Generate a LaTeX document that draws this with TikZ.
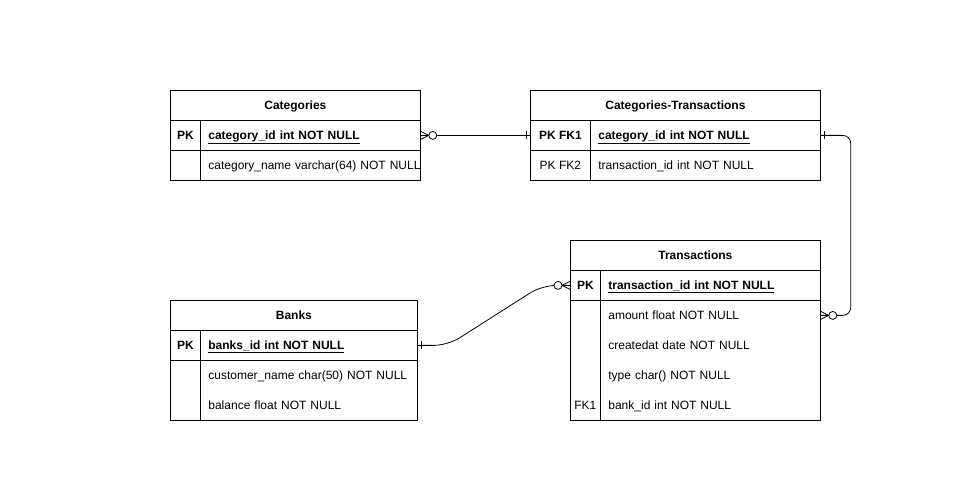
\documentclass[tikz,border=0pt]{standalone}
\usepackage{fontspec}
\setmainfont{Liberation Sans}
\usetikzlibrary{calc}

\begin{document}
\begin{tikzpicture}[
    x=1pt, y=-1pt, line width=0.8pt,
    font=\fontsize{12}{14}\selectfont,
    cell/.style={anchor=north west, minimum height=30pt, inner ysep=0pt,
                 text height=10pt, text depth=2pt},
    tblhead/.style={cell, draw, minimum width=#1, font=\fontsize{12}{14}\selectfont\bfseries},
    keycell/.style={cell, draw, inner xsep=0pt, minimum width=#1},
    keytext/.style={cell, inner xsep=0pt, minimum width=#1},
    fieldcell/.style={cell, draw, inner xsep=8pt, text width=#1, align=left},
    fieldtext/.style={cell, inner xsep=8pt, text width=#1, align=left},
    manyopt/.pic={\draw (0,-4) -- (8,0) -- (0,4);
                  \draw[fill=white] (12,0) circle[radius=4pt];},
    onebar/.pic={\draw (4,-4) -- (4,4);}
]
\useasboundingbox (0,0) rectangle (962,502);

% Categories
\node[tblhead=250pt] (cat) at (170,90) {Categories};
\node[keycell=30pt, font=\fontsize{12}{14}\selectfont\bfseries] (catpkkey) at (170,120) {PK};
\node[fieldcell=204pt] (catpk) at (200,120) {\underline{\textbf{category\_id int NOT NULL}}};
\node[keycell=30pt] (catnamekey) at (170,150) {};
\node[fieldcell=204pt] (catname) at (200,150) {\mbox{category\_name varchar(64) NOT NULL}};

% Categories-Transactions
\node[tblhead=290pt] (ct) at (530,90) {Categories-Transactions};
\node[keycell=60pt, font=\fontsize{12}{14}\selectfont\bfseries] (ctcatkey) at (530,120) {PK FK1};
\node[fieldcell=214pt] (ctcat) at (590,120) {\underline{\textbf{category\_id int NOT NULL}}};
\node[keycell=60pt] (cttrkey) at (530,150) {PK FK2};
\node[fieldcell=214pt] (cttr) at (590,150) {transaction\_id int NOT NULL};

% Transactions
\node[tblhead=250pt] (tr) at (570,240) {Transactions};
\node[keycell=30pt, font=\fontsize{12}{14}\selectfont\bfseries] (trpkkey) at (570,270) {PK};
\node[fieldcell=204pt] (trpk) at (600,270) {\underline{\textbf{transaction\_id int NOT NULL}}};
\node[keycell=30pt, minimum height=120pt] (trbodykey) at (570,300) {};
\node[cell, draw, minimum width=220pt, minimum height=120pt] (trbody) at (600,300) {};
\node[fieldtext=204pt] (tramount) at (600,300) {amount float NOT NULL};
\node[fieldtext=204pt] (trdate) at (600,330) {createdat date NOT NULL};
\node[fieldtext=204pt] (trtype) at (600,360) {type char() NOT NULL};
\node[keytext=30pt] (trbankkey) at (570,390) {FK1};
\node[fieldtext=204pt] (trbank) at (600,390) {bank\_id int NOT NULL};

% Banks
\node[tblhead=247pt] (bk) at (170,300) {Banks};
\node[keycell=30pt, font=\fontsize{12}{14}\selectfont\bfseries] (bkpkkey) at (170,330) {PK};
\node[fieldcell=201pt] (bkpk) at (200,330) {\underline{\textbf{banks\_id int NOT NULL}}};
\node[keycell=30pt, minimum height=60pt] (bkbodykey) at (170,360) {};
\node[cell, draw, minimum width=217pt, minimum height=60pt] (bkbody) at (200,360) {};
\node[fieldtext=201pt] (bkname) at (200,360) {customer\_name char(50) NOT NULL};
\node[fieldtext=201pt] (bkbal) at (200,390) {balance float NOT NULL};

% relations
\draw (catpk.east) -- (ctcatkey.west);
\draw[rounded corners=8pt] (ctcat.east) -- ++(30,0) |- (tramount.east);
\draw[rounded corners=14pt] (bkpk.east) -- ++(30,0) -- ($(trpkkey.west)+(-28,0)$) -- (trpkkey.west);

\pic at (catpk.east) {manyopt};
\pic[rotate=180] at (ctcatkey.west) {onebar};
\pic at (ctcat.east) {onebar};
\pic at (tramount.east) {manyopt};
\pic at (bkpk.east) {onebar};
\pic[rotate=180] at (trpkkey.west) {manyopt};
\end{tikzpicture}
\end{document}
